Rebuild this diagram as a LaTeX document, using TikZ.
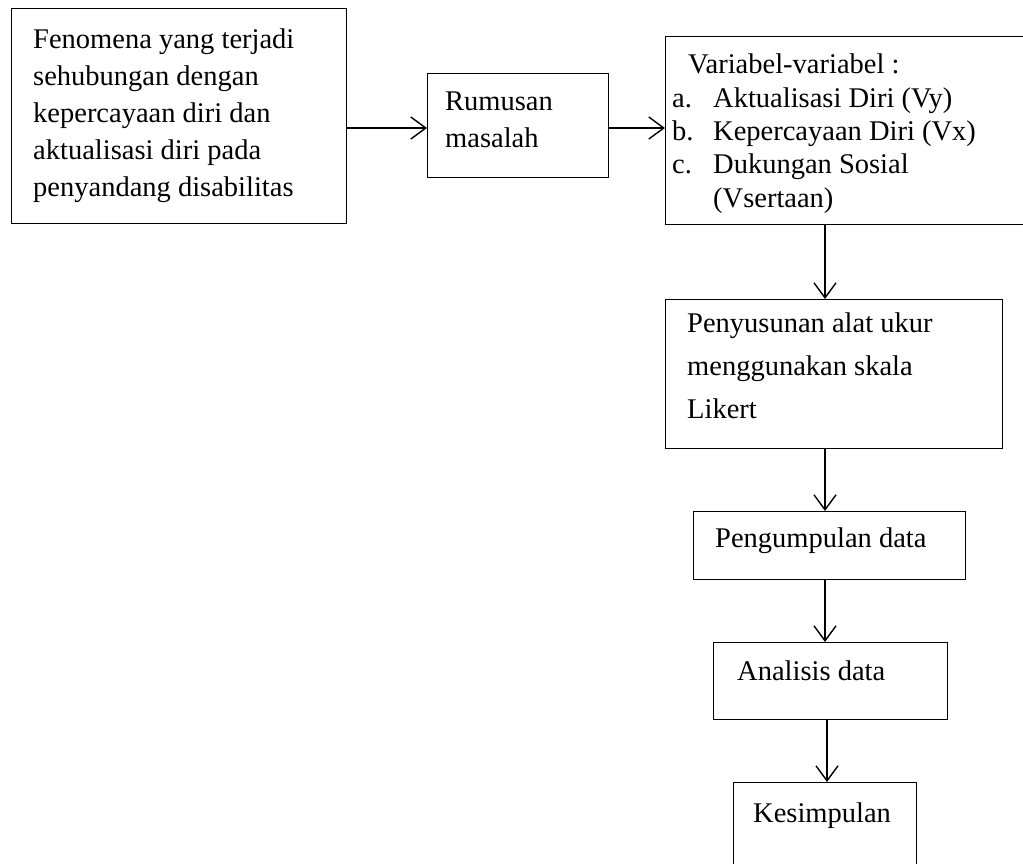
\documentclass[tikz,border=0pt]{standalone}
\usepackage{fontspec}
\setmainfont{Liberation Serif}
\usetikzlibrary{arrows.meta,calc}
\begin{document}
\begin{tikzpicture}[x=1pt,y=-1pt,
  box/.style={draw=black, line width=1.4pt, inner sep=0pt, anchor=north west},
  txt/.style={anchor=base west, inner sep=0pt, font=\fontsize{28.5}{34}\selectfont},
  arr/.style={line width=1.4pt, -{Straight Barb[length=15pt,width=22pt,line width=1.4pt]}}]
\clip (0,0) rectangle (1023,863);
\fill[white] (0,0) rectangle (1023,863);
% boxes
\node[box, minimum width=335pt, minimum height=215pt] (b1) at (11,8) {};
\node[box, minimum width=181pt, minimum height=104pt] (b2) at (427,73) {};
\node[box, minimum width=380pt, minimum height=188pt] (b3) at (665,36) {};
\node[box, minimum width=337pt, minimum height=149pt] (b4) at (665,299) {};
\node[box, minimum width=272pt, minimum height=68pt] (b5) at (693,511) {};
\node[box, minimum width=234pt, minimum height=77pt] (b6) at (713,642) {};
\node[box, minimum width=183pt, minimum height=120pt] (b7) at (733,782) {};
% texts
\node[txt] (t1a) at (33,48) {Fenomena yang terjadi};
\node[txt] (t1b) at (33,85) {sehubungan dengan};
\node[txt] (t1c) at (33,122) {kepercayaan diri dan};
\node[txt] (t1d) at (33,159) {aktualisasi diri pada};
\node[txt] (t1e) at (33,196) {penyandang disabilitas};
\node[txt] (t2a) at (445,110) {Rumusan};
\node[txt] (t2b) at (445,147) {masalah};
\node[txt] (t3a) at (688,73) {Variabel-variabel :};
\node[txt] (t3b) at (672,107) {a.};
\node[txt] (t3c) at (713,107) {Aktualisasi Diri (Vy)};
\node[txt] (t3d) at (672,140) {b.};
\node[txt] (t3e) at (713,140) {Kepercayaan Diri (Vx)};
\node[txt] (t3f) at (672,173) {c.};
\node[txt] (t3g) at (713,173) {Dukungan Sosial};
\node[txt] (t3h) at (713,207) {(Vsertaan)};
\node[txt] (t4a) at (687,332) {Penyusunan alat ukur};
\node[txt] (t4b) at (687,375) {menggunakan skala};
\node[txt] (t4c) at (687,418) {Likert};
\node[txt] (t5) at (715,547) {Pengumpulan data};
\node[txt] (t6) at (737,680) {Analisis data};
\node[txt] (t7) at (753,822) {Kesimpulan};
% connectors
\coordinate (r1) at (0,128);
\coordinate (c1) at (825,0);
\coordinate (c2) at (827,0);
\draw[arr] (b1.east |- r1) -- (b2.west |- r1);
\draw[arr] (b2.east |- r1) -- (b3.west |- r1);
\draw[arr] (b3.south -| c1) -- (b4.north -| c1);
\draw[arr] (b4.south -| c1) -- (b5.north -| c1);
\draw[arr] (b5.south -| c1) -- (b6.north -| c1);
\draw[arr] (b6.south -| c2) -- (b7.north -| c2);
\end{tikzpicture}
\end{document}
